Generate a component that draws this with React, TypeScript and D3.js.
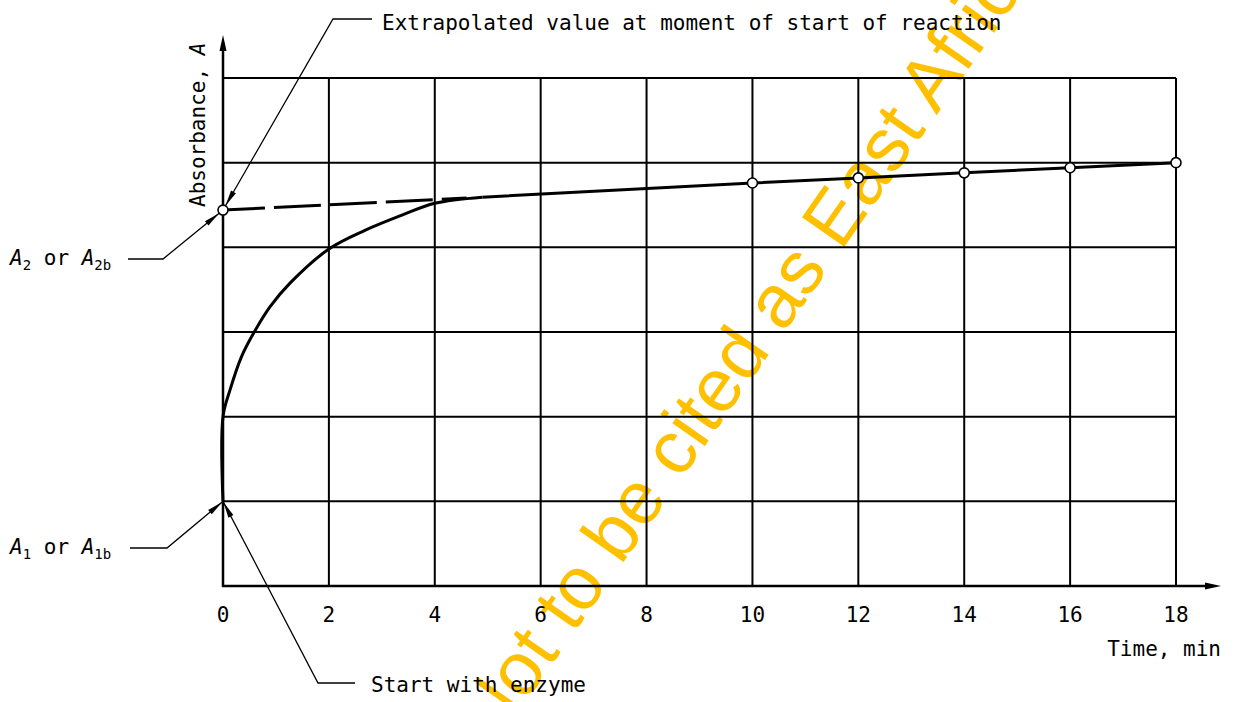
import React from 'react';
import * as d3 from 'd3';

// grid / tick values
const timeTicks = [0, 2, 4, 6, 8, 10, 12, 14, 16, 18];
const absGrid = [1, 2, 3, 4, 5, 6];

// measured points on the linear part (time in min, absorbance in grid units)
const measuredTime = [10, 12, 14, 16, 18];
const measuredAbs = [4.76, 4.82, 4.88, 4.94, 5.0];

// start of reaction: jump after enzyme, then the curved rise
const curveTime = [0, 0, 0.13, 0.35, 0.59, 0.89, 1.27, 2, 2.68, 3.38, 4, 4.9];
const curveAbs = [1.0, 2.0, 2.31, 2.71, 3.0, 3.3, 3.58, 3.98, 4.2, 4.38, 4.52, 4.592];

// extrapolated (dashed) part back to t = 0
const extraTime = [0, 4.6];
const extraAbs = [4.44, 4.583];

const A1 = 1.0;
const A2 = 4.44;

const W = 1234;
const H = 702;
const margin = { top: 78, right: 58, bottom: 116, left: 223 };
const FONT = '"DejaVu Sans Mono", monospace';

type Pt = [number, number];

// filled narrow arrowhead, tip at `tip`, coming from `from`
const arrowHead = (tip: Pt, from: Pt, len = 16, half = 3) => {
  const dx = tip[0] - from[0];
  const dy = tip[1] - from[1];
  const d = Math.hypot(dx, dy);
  const ux = dx / d, uy = dy / d;
  const bx = tip[0] - ux * len, by = tip[1] - uy * len;
  return `M${tip[0]},${tip[1]}L${bx - uy * half},${by + ux * half}L${bx + uy * half},${by - ux * half}Z`;
};

const App = () => {
  const x = d3.scaleLinear().domain([0, 18]).range([margin.left, W - margin.right]);
  const y = d3.scaleLinear().domain([0, 6]).range([H - margin.bottom, margin.top]);

  const x0 = x(0);
  const y0 = y(0);

  const curveLine = d3
    .line<number>()
    .x(i => x(curveTime[i]))
    .y(i => y(curveAbs[i]))
    .curve(d3.curveCatmullRom.alpha(0.5));

  const straight = d3.line<Pt>().x(d => x(d[0])).y(d => y(d[1]));
  const lastCurve: Pt = [curveTime[curveTime.length - 1], curveAbs[curveAbs.length - 1]];
  const straightPts: Pt[] = [lastCurve, ...measuredTime.map((t, i) => [t, measuredAbs[i]] as Pt)];
  const dashPts: Pt[] = extraTime.map((t, i) => [t, extraAbs[i]] as Pt);

  const pA2: Pt = [x(0), y(A2)];
  const pA1: Pt = [x(0), y(A1)];

  // leader polylines (label side -> point)
  const leadTop: Pt[] = [[372, 19], [333, 19], pA2];
  const leadA2: Pt[] = [[128, 259], [163, 259], pA2];
  const leadA1: Pt[] = [[130, 548], [167, 548], pA1];
  const leadStart: Pt[] = [[355, 683], [318, 683], pA1];

  const tipOffset = (p: Pt, from: Pt, r: number): Pt => {
    const d = Math.hypot(p[0] - from[0], p[1] - from[1]);
    return [p[0] - ((p[0] - from[0]) / d) * r, p[1] - ((p[1] - from[1]) / d) * r];
  };

  const leaders = [
    { pts: leadTop, r: 5 },
    { pts: leadA2, r: 5 },
    { pts: leadA1, r: 1 },
    { pts: leadStart, r: 1 },
  ];

  const sub = (label: string, s: string) => (
    <>
      <tspan fontStyle="italic">{label}</tspan>
      <tspan fontSize={14} dy={5}>{s}</tspan>
      <tspan dy={-5}>{' '}</tspan>
    </>
  );

  return (
    <svg
      width={W}
      height={H}
      style={{ position: 'absolute', left: 0, top: 0, background: '#fff' }}
      fontFamily={FONT}
    >
      {/* watermark, behind the drawing */}
      <text
        transform="translate(494,747) rotate(-55)"
        fontFamily='"Liberation Sans", Arial, sans-serif'
        fontSize={75}
        fill="#FFC000"
      >
        Not to be cited as East African Standard
      </text>

      {/* grid */}
      <g stroke="#000" strokeWidth={2} fill="none">
        {timeTicks.slice(1).map(t => (
          <line key={'v' + t} x1={x(t)} x2={x(t)} y1={y(0)} y2={y(6)} />
        ))}
        {absGrid.map(a => (
          <line key={'h' + a} x1={x(0)} x2={x(18)} y1={y(a)} y2={y(a)} />
        ))}
      </g>

      {/* axes with arrows */}
      <g stroke="#000" strokeWidth={2.5}>
        <line x1={x0} x2={x0} y1={y0 + 1} y2={48} />
        <line x1={x0 - 1} x2={1208} y1={y0} y2={y0} />
      </g>
      <path d={arrowHead([x0, 35], [x0, y0], 16, 3.5)} fill="#000" />
      <path d={arrowHead([1221, y0], [x0, y0], 16, 3.5)} fill="#000" />

      {/* tick labels */}
      <g fontSize={21} textAnchor="middle" fill="#000">
        {timeTicks.map(t => (
          <text key={t} x={x(t)} y={622}>{t}</text>
        ))}
      </g>
      <text x={1221} y={656} fontSize={21} textAnchor="end">Time, min</text>
      <text transform="translate(205,207) rotate(-90)" fontSize={21}>
        Absorbance, <tspan fontStyle="italic">A</tspan>
      </text>

      {/* curves */}
      <path
        d={straight(dashPts) || ''}
        fill="none"
        stroke="#000"
        strokeWidth={3}
        strokeDasharray="47 9"
        strokeDashoffset={5}
      />
      <path d={curveLine(d3.range(curveTime.length)) || ''} fill="none" stroke="#000" strokeWidth={3} />
      <path d={straight(straightPts) || ''} fill="none" stroke="#000" strokeWidth={3} />

      {/* points */}
      <g fill="#fff" stroke="#000" strokeWidth={1.6}>
        <circle cx={x(0)} cy={y(A2)} r={5} />
        {measuredTime.map((t, i) => (
          <circle key={t} cx={x(t)} cy={y(measuredAbs[i])} r={5} />
        ))}
      </g>

      {/* leaders */}
      {leaders.map((l, i) => {
        const tip = tipOffset(l.pts[2], l.pts[1], l.r);
        return (
          <g key={i}>
            <polyline
              points={[l.pts[0], l.pts[1], tip].map(p => p.join(',')).join(' ')}
              fill="none"
              stroke="#000"
              strokeWidth={1.3}
            />
            <path d={arrowHead(tip, l.pts[1], 16, 2.8)} fill="#000" />
          </g>
        );
      })}

      {/* annotations */}
      <g fontSize={21} fill="#000">
        <text x={382} y={30}>Extrapolated value at moment of start of reaction</text>
        <text x={371} y={692}>Start with enzyme</text>
        <text x={10} y={265}>
          {sub('A', '2')}or {sub('A', '2b')}
        </text>
        <text x={10} y={554}>
          {sub('A', '1')}or {sub('A', '1b')}
        </text>
      </g>
    </svg>
  );
};

export default App;
